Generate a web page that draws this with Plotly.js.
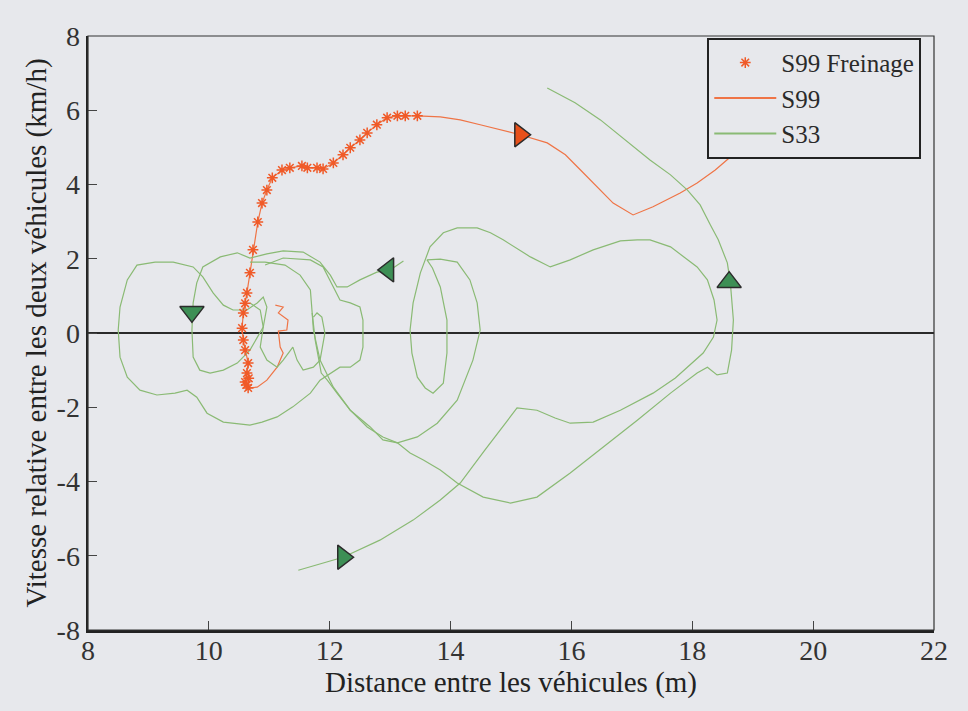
<!DOCTYPE html>
<html>
<head>
<meta charset="utf-8">
<script src="https://cdn.plot.ly/plotly-3.0.1.min.js"></script>
<style>html,body{margin:0;padding:0;background:#e7e8ec;}#chart{width:968px;height:711px;}</style>
</head>
<body>
<div id="chart"></div>
<script>
// ---- S99 (line) : distance (m) / relative speed (km/h)
const s99X = [11.10,11.23,11.15,11.31,11.29,11.15,11.18,11.23,11.13,10.96,10.80,10.65,
  10.60,10.63,10.65,10.60,10.57,10.55,10.57,10.63,10.68,10.73,10.81,10.88,10.96,11.05,11.21,11.34,11.54,11.63,11.79,11.89,12.06,12.22,12.34,12.50,12.62,12.78,12.95,13.12,13.25,13.45,
  13.83,14.16,14.49,14.82,15.15,15.60,15.90,16.15,16.43,16.69,17.02,17.35,17.80,18.08,18.38,18.63,18.88];
const s99Y = [0.75,0.70,0.54,0.35,0.08,0.05,-0.38,-0.54,-0.92,-1.27,-1.46,-1.48,
  -1.32,-1.08,-0.81,-0.46,-0.19,0.13,0.54,1.08,1.62,2.24,2.99,3.50,3.85,4.18,4.39,4.45,4.50,4.45,4.45,4.42,4.58,4.80,4.99,5.20,5.39,5.61,5.80,5.85,5.85,5.85,
  5.82,5.74,5.61,5.47,5.34,5.12,4.80,4.39,3.94,3.50,3.18,3.40,3.77,4.04,4.39,4.74,5.12];

// ---- S99 Freinage (braking points)
const freinX = [10.65,10.62,10.60,10.66,10.63,10.65,10.60,10.57,10.55,10.57,10.60,10.63,10.68,10.73,10.81,10.88,10.96,11.05,11.21,11.34,11.54,11.63,11.79,11.89,12.06,12.22,12.34,12.50,12.62,12.78,12.95,13.12,13.25,13.45];
const freinY = [-1.48,-1.40,-1.32,-1.22,-1.08,-0.81,-0.46,-0.19,0.13,0.54,0.80,1.08,1.62,2.24,2.99,3.50,3.85,4.18,4.39,4.45,4.50,4.45,4.45,4.42,4.58,4.80,4.99,5.20,5.39,5.61,5.80,5.85,5.85,5.85];

// ---- S33 (line, several recorded passes separated by gaps)
const s33X = [
  11.48,12.22,12.83,13.38,13.83,14.16,14.57,14.94,15.10,15.43,15.73,15.98,16.36,16.81,17.35,17.72,17.97,18.18,18.35,18.41,18.36,18.25,18.08,17.88,17.64,17.30,17.09,16.81,16.36,15.98,15.65,15.32,14.87,14.66,14.44,14.11,13.88,13.66,13.50,13.38,13.33,13.36,13.45,13.58,13.71,13.88,13.94,13.94,13.83,13.70,13.61,13.83,14.11,14.32,14.44,14.49,14.37,14.11,13.78,13.45,13.12,12.88,12.67,12.34,12.06,11.84,11.73,11.71,11.68,11.51,11.26,10.93,10.68,
  null,
  13.22,13.00,12.78,12.50,12.29,12.12,12.01,11.84,11.56,11.23,10.96,10.68,10.47,10.19,9.90,9.80,9.74,9.72,9.74,9.85,10.02,10.24,10.47,10.68,10.90,10.96,10.90,10.80,10.63,10.40,10.24,10.07,9.90,9.74,9.41,9.11,8.81,8.65,8.53,8.50,8.53,8.65,8.86,9.14,9.44,9.64,9.80,9.97,10.24,10.68,10.88,11.13,11.39,11.68,11.84,12.01,12.17,12.34,12.50,12.55,12.55,12.50,12.34,12.17,12.06,11.89,11.68,11.23,10.93,
  null,
  11.71,11.76,11.86,11.96,12.12,12.34,12.62,12.88,13.12,13.33,13.55,13.83,14.11,14.54,14.99,15.43,15.98,16.53,17.09,17.64,18.08,18.25,18.41,18.58,18.65,18.68,18.63,18.58,18.43,18.30,18.13,17.92,17.64,17.30,16.89,16.48,16.06,15.60,
  null,
  10.68,10.85,10.90,10.85,10.96,11.13,11.23,11.39,11.46,11.56,11.73,11.84,11.92,11.87,11.79,11.73
];
const s33Y = [
  -6.39,-6.04,-5.58,-5.04,-4.50,-4.04,-3.15,-2.35,-2.02,-2.08,-2.29,-2.43,-2.40,-2.08,-1.62,-1.21,-0.86,-0.54,-0.11,0.35,0.89,1.43,1.78,2.02,2.32,2.51,2.51,2.48,2.24,1.97,1.78,2.05,2.51,2.70,2.83,2.83,2.70,2.32,1.62,0.81,0.08,-0.54,-1.19,-1.48,-1.62,-1.35,-0.54,0.35,1.24,1.75,1.97,1.99,1.91,1.43,0.81,0.08,-0.73,-1.81,-2.43,-2.80,-2.96,-2.88,-2.53,-2.08,-1.46,-0.73,0.08,0.54,1.16,1.56,1.83,1.91,1.91,
  null,
  1.94,1.70,1.64,1.43,1.24,1.24,1.56,1.91,2.18,2.21,2.13,2.02,2.16,2.05,1.78,1.35,0.81,0.08,-0.65,-1.00,-1.08,-1.00,-0.81,-0.46,0.16,0.70,0.97,0.81,0.62,0.62,0.75,1.08,1.51,1.78,1.91,1.91,1.83,1.43,0.70,0.08,-0.65,-1.19,-1.54,-1.67,-1.62,-1.54,-1.73,-2.16,-2.40,-2.48,-2.40,-2.26,-1.99,-1.62,-1.27,-1.08,-0.92,-0.92,-0.73,-0.38,0.35,0.70,0.81,0.89,1.24,1.78,1.97,2.02,1.83,
  null,
  0.54,-0.19,-1.08,-1.27,-1.62,-2.08,-2.53,-2.80,-2.96,-3.23,-3.42,-3.69,-4.04,-4.42,-4.58,-4.42,-3.77,-3.07,-2.35,-1.62,-1.08,-0.92,-1.13,-1.08,-0.46,0.35,1.35,1.89,2.51,2.91,3.45,3.85,4.26,4.66,5.20,5.74,6.20,6.60,
  null,
  0.81,0.62,0.16,-0.38,-0.73,-0.92,-0.73,-0.38,-0.73,-1.00,-0.92,-0.73,0.00,0.43,0.54,0.43
];

// ---- direction arrows (triangles on the trajectories)
const arrowS33X = [9.72, 12.97, 18.61, 12.22];
const arrowS33Y = [0.57, 1.70, 1.37, -6.04];
const arrowS33Sym = ['triangle-down','triangle-left','triangle-up','triangle-right'];
const arrowS99X = [15.15];
const arrowS99Y = [5.34];

const xTicks = [8,10,12,14,16,18,20,22];
const xTickText = ['8','10','12','14','16','18','20','22'];
const yTicks = [-8,-6,-4,-2,0,2,4,6,8];
const yTickText = ['-8','-6','-4','-2','0','2','4','6','8'];

const serif = '"Liberation Serif", "Times New Roman", serif';
const bg = '#e7e8ec';

const traces = [
  {x: s99X, y: s99Y, type:'scatter', mode:'lines', name:'S99', showlegend:false,
   line:{color:'#ef7446', width:1.2}},
  {x: s33X, y: s33Y, type:'scatter', mode:'lines', name:'S33', showlegend:false, connectgaps:false,
   line:{color:'#8aba74', width:1.2}},
  {x: freinX, y: freinY, type:'scatter', mode:'markers', name:'S99 Freinage',
   marker:{symbol:'asterisk-open', size:9, color:'#f05a28', line:{color:'#f05a28', width:1.5}}},
  {x: [null], y: [null], type:'scatter', mode:'lines', name:'S99', line:{color:'#ef7446', width:2}},
  {x: [null], y: [null], type:'scatter', mode:'lines', name:'S33', line:{color:'#8aba74', width:2}},
  {x: arrowS33X, y: arrowS33Y, type:'scatter', mode:'markers', showlegend:false,
   marker:{symbol: arrowS33Sym, size:21, color:'#3d8f55', line:{color:'#2b2b2b', width:1.5}}},
  {x: arrowS99X, y: arrowS99Y, type:'scatter', mode:'markers', showlegend:false,
   marker:{symbol:'triangle-right', size:21, color:'#e8501a', line:{color:'#2b2b2b', width:1.5}}}
];

const layout = {
  width: 968, height: 711,
  paper_bgcolor: bg, plot_bgcolor: bg,
  margin: {l: 88, r: 34, t: 36, b: 81},
  font: {family: serif, size: 26, color: '#2a2a2a'},
  showlegend: true,
  legend: {x: 0.732, y: 0.997, xanchor:'left', yanchor:'top', bgcolor: bg,
    bordercolor:'#222', borderwidth: 2, font:{family: serif, size: 25, color:'#2a2a2a'},
    tracegroupgap: 0, itemwidth: 62},
  xaxis: {range:[8,22], tickvals: xTicks, ticktext: xTickText, ticks:'inside', ticklen: 9, tickcolor:'#444', tickwidth:1,
    showline:true, linecolor:'#222', linewidth:2.5, mirror:false, showgrid:false, zeroline:false,
    tickfont:{family: serif, size: 28, color:'#333'}, ticklabelstandoff: -6,
    title:{text:'Distance entre les véhicules (m)', font:{family: serif, size: 29, color:'#222'}, standoff: 0}},
  yaxis: {range:[-8,8], tickvals: yTicks, ticktext: yTickText, ticks:'inside', ticklen: 9, tickcolor:'#444', tickwidth:1,
    showline:true, linecolor:'#222', linewidth:2.5, mirror:false, showgrid:false,
    zeroline:true, zerolinecolor:'#2a2a2a', zerolinewidth:2.5,
    tickfont:{family: serif, size: 28, color:'#333'},
    title:{text:'Vitesse relative entre les deux véhicules (km/h)', font:{family: serif, size: 29, color:'#222'}, standoff: 2}},
  shapes: [{type:'rect', xref:'paper', yref:'paper', x0:0, x1:1, y0:0, y1:1,
    line:{color:'#333', width:1.2}, fillcolor:'rgba(0,0,0,0)', layer:'above'}]
};

Plotly.newPlot('chart', traces, layout, {displayModeBar:false, staticPlot:true});
</script>
</body>
</html>
